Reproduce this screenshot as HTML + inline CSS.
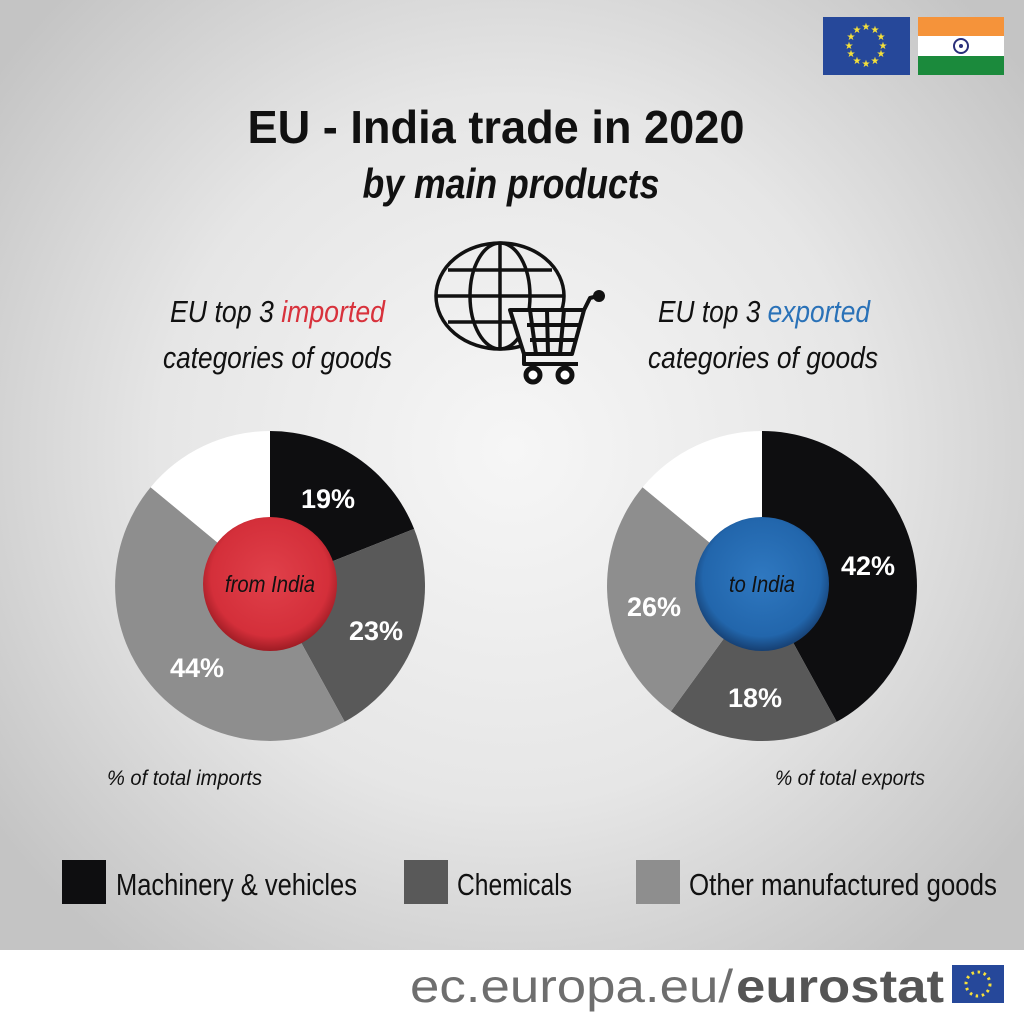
<!DOCTYPE html>
<html><head><meta charset="utf-8"><style>
html,body{margin:0;padding:0;width:1024px;height:1024px;overflow:hidden}
svg{display:block}
</style></head><body>
<svg width="1024" height="1024" viewBox="0 0 1024 1024" xmlns="http://www.w3.org/2000/svg" font-family="Liberation Sans Narrow, Liberation Sans, sans-serif">
<defs>
<radialGradient id="bg" cx="512" cy="450" r="640" gradientUnits="userSpaceOnUse">
<stop offset="0" stop-color="#f6f6f6"/><stop offset="0.55" stop-color="#e6e6e6"/><stop offset="1" stop-color="#c4c4c4"/>
</radialGradient>
<radialGradient id="red" cx="0.5" cy="0.45" r="0.55">
<stop offset="0" stop-color="#e0404a"/><stop offset="0.8" stop-color="#d42f3a"/><stop offset="1" stop-color="#9e1c24"/>
</radialGradient>
<radialGradient id="blue" cx="0.5" cy="0.45" r="0.55">
<stop offset="0" stop-color="#2f78c0"/><stop offset="0.8" stop-color="#2266ac"/><stop offset="1" stop-color="#163f72"/>
</radialGradient>
</defs>
<rect width="1024" height="950" fill="url(#bg)"/>
<rect y="950" width="1024" height="74" fill="#fff"/>

<!-- flags -->
<rect x="823" y="17" width="87" height="58" fill="#26489a"/>
<g fill="#f5e03a" font-size="10" text-anchor="middle" font-family="DejaVu Sans">
<text x="866" y="30">★</text><text x="875" y="33">★</text><text x="881" y="40">★</text><text x="883" y="49">★</text><text x="881" y="57">★</text><text x="875" y="64">★</text><text x="866" y="67">★</text><text x="857" y="64">★</text><text x="851" y="57">★</text><text x="849" y="49">★</text><text x="851" y="40">★</text><text x="857" y="33">★</text>
</g>
<rect x="918" y="17" width="86" height="19" fill="#f5933a"/>
<rect x="918" y="36" width="86" height="20" fill="#fff"/>
<rect x="918" y="56" width="86" height="19" fill="#1b8a3c"/>
<circle cx="961" cy="46" r="7" fill="none" stroke="#2a2f7a" stroke-width="2"/>
<circle cx="961" cy="46" r="2" fill="#2a2f7a"/>

<!-- titles -->
<text x="496" y="143" text-anchor="middle" font-size="46" font-weight="bold" fill="#111" textLength="497" lengthAdjust="spacingAndGlyphs">EU - India trade in 2020</text>
<text x="511" y="198" text-anchor="middle" font-size="42" font-weight="bold" font-style="italic" fill="#111" textLength="297" lengthAdjust="spacingAndGlyphs">by main products</text>

<!-- icon -->
<g fill="none" stroke="#111" stroke-width="3.5">
<ellipse cx="500" cy="296" rx="64" ry="53"/>
<ellipse cx="500" cy="296" rx="30" ry="53"/>
<line x1="500" y1="243" x2="500" y2="349"/>
<line x1="436" y1="296" x2="564" y2="296"/>
<line x1="448" y1="270" x2="552" y2="270"/>
<line x1="448" y1="322" x2="552" y2="322"/>
</g>
<g fill="none" stroke="#111" stroke-width="4" stroke-linejoin="round">
<path d="M510 310 L584 310 L572 354 L524 354 Z" fill="#eee"/>
<path d="M584 310 L590 298 L598 296"/>
<line x1="527" y1="325" x2="580" y2="325"/><line x1="530" y1="340" x2="576" y2="340"/>
<line x1="530" y1="310" x2="536" y2="354"/><line x1="547" y1="310" x2="548" y2="354"/><line x1="564" y1="310" x2="560" y2="354"/>
<path d="M524 354 L524 364 L578 364"/>
</g>
<circle cx="599" cy="296" r="6" fill="#111"/>
<circle cx="533" cy="375" r="7" fill="#fff" stroke="#111" stroke-width="5"/>
<circle cx="565" cy="375" r="7" fill="#fff" stroke="#111" stroke-width="5"/>

<!-- captions -->
<g font-size="31" font-style="italic" fill="#111">
<text x="170" y="322" textLength="215" lengthAdjust="spacingAndGlyphs">EU top 3 <tspan fill="#d8323c">imported</tspan></text>
<text x="163" y="368" textLength="229" lengthAdjust="spacingAndGlyphs">categories of goods</text>
<text x="658" y="322" textLength="212" lengthAdjust="spacingAndGlyphs">EU top 3 <tspan fill="#2a72b8">exported</tspan></text>
<text x="648" y="368" textLength="230" lengthAdjust="spacingAndGlyphs">categories of goods</text>
</g>

<!-- left pie -->
<path d="M270 586 L270 431 A155 155 0 0 1 414.1 528.9 Z" fill="#0e0e10"/>
<path d="M270 586 L414.1 528.9 A155 155 0 0 1 344.7 721.8 Z" fill="#595959"/>
<path d="M270 586 L344.7 721.8 A155 155 0 0 1 150.6 487.2 Z" fill="#8e8e8e"/>
<path d="M270 586 L150.6 487.2 A155 155 0 0 1 270 431 Z" fill="#ffffff"/>
<circle cx="270" cy="584" r="67" fill="url(#red)"/>
<text x="270" y="592" text-anchor="middle" font-size="23" font-style="italic" fill="#111" textLength="90" lengthAdjust="spacingAndGlyphs">from India</text>

<!-- right pie -->
<path d="M762 586 L762 431 A155 155 0 0 1 836.7 721.8 Z" fill="#0e0e10"/>
<path d="M762 586 L836.7 721.8 A155 155 0 0 1 670.9 711.4 Z" fill="#595959"/>
<path d="M762 586 L670.9 711.4 A155 155 0 0 1 642.6 487.2 Z" fill="#8e8e8e"/>
<path d="M762 586 L642.6 487.2 A155 155 0 0 1 762 431 Z" fill="#ffffff"/>
<circle cx="762" cy="584" r="67" fill="url(#blue)"/>
<text x="762" y="592" text-anchor="middle" font-size="23" font-style="italic" fill="#111" textLength="66" lengthAdjust="spacingAndGlyphs">to India</text>

<g font-size="27" font-weight="bold" fill="#fff" text-anchor="middle" font-family="Liberation Sans, sans-serif">
<text x="328" y="508">19%</text><text x="376" y="640">23%</text><text x="197" y="677">44%</text>
<text x="868" y="575">42%</text><text x="755" y="707">18%</text><text x="654" y="616">26%</text>
</g>

<g font-size="21" font-style="italic" fill="#111">
<text x="107" y="785" textLength="155" lengthAdjust="spacingAndGlyphs">% of total imports</text>
<text x="775" y="785" textLength="150" lengthAdjust="spacingAndGlyphs">% of total exports</text>
</g>

<!-- legend -->
<rect x="62" y="860" width="44" height="44" fill="#0e0e10"/>
<rect x="404" y="860" width="44" height="44" fill="#595959"/>
<rect x="636" y="860" width="44" height="44" fill="#8e8e8e"/>
<g font-size="31" fill="#111">
<text x="116" y="895" textLength="241" lengthAdjust="spacingAndGlyphs">Machinery &amp; vehicles</text>
<text x="457" y="895" textLength="115" lengthAdjust="spacingAndGlyphs">Chemicals</text>
<text x="689" y="895" textLength="308" lengthAdjust="spacingAndGlyphs">Other manufactured goods</text>
</g>

<!-- footer -->
<text x="410" y="1002" font-size="46" fill="#6e6e6e" font-family="Liberation Sans, sans-serif" textLength="323" lengthAdjust="spacingAndGlyphs">ec.europa.eu/</text>
<text x="736" y="1002" font-size="46" font-weight="bold" fill="#555" font-family="Liberation Sans, sans-serif" textLength="208" lengthAdjust="spacingAndGlyphs">eurostat</text>
<rect x="952" y="965" width="52" height="38" fill="#26489a"/>
<circle cx="978" cy="984" r="12" fill="none" stroke="#f5e03a" stroke-width="3" stroke-dasharray="2.5 3.7"/>
</svg>
</body></html>
